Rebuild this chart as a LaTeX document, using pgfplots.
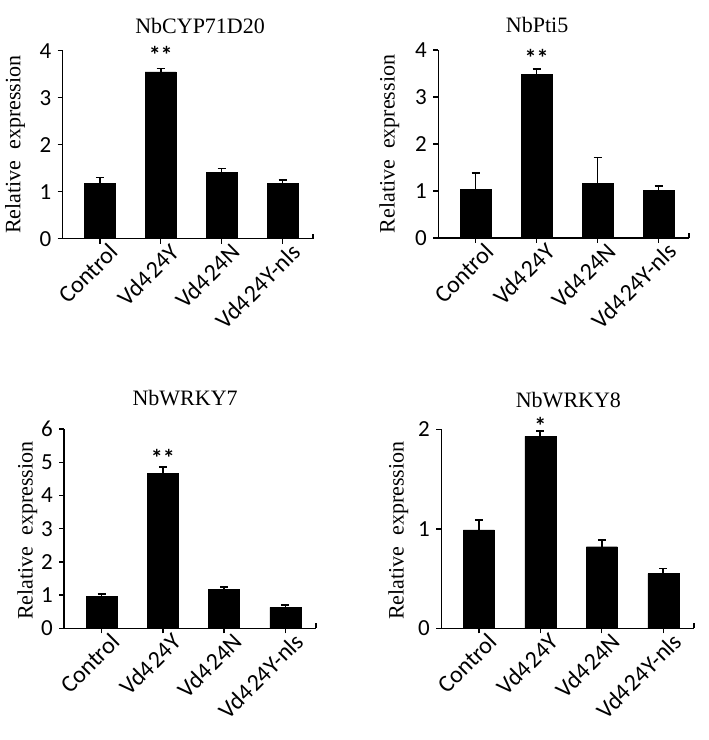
\documentclass[border=0pt]{standalone}
\usepackage{fontspec}
\setmainfont{Liberation Serif}
\newfontfamily\calfont{Carlito}
\usepackage{pgfplots}
\usepackage{pgfplotstable}
\pgfplotsset{compat=1.18}

\pgfplotstableread{
x y e
0 1.18 0.12
1 3.55 0.07
2 1.41 0.08
3 1.18 0.07
}\cyp
\pgfplotstableread{
x y e
0 1.04 0.34
1 3.48 0.11
2 1.17 0.54
3 1.01 0.10
}\pti
\pgfplotstableread{
x y e
0 0.97 0.07
1 4.67 0.19
2 1.18 0.07
3 0.63 0.07
}\wrkyseven
\pgfplotstableread{
x y e
0 0.99 0.10
1 1.93 0.05
2 0.82 0.07
3 0.55 0.05
}\wrkyeight

\tikzset{sigstar/.style={font=\calfont\bfseries\fontsize{24}{24}\selectfont, anchor=center, yshift=-5pt}}

\begin{document}
\begin{tikzpicture}
\useasboundingbox (0pt,0pt) rectangle (709pt,740pt);
\pgfplotsset{
 panel/.style={
  scale only axis, xmin=-0.61, xmax=3.5, ymin=0,
  axis x line=bottom, axis y line=left,
  axis line style={-, line width=1.6pt, black},
  tick align=outside, major tick length=5pt,
  tick style={line width=1.4pt, black},
  xtick={0,1,2,3},
  xticklabels={Control, Vd4\kern2pt 24Y, Vd4\kern2pt 24N, Vd4\kern2pt 24Y-nls},
  xticklabel style={font=\calfont\fontsize{24}{24}\selectfont, rotate=45, anchor=east, inner sep=0pt, xshift=7pt, yshift=-13pt},
  yticklabel style={font=\calfont\fontsize{23}{23}\selectfont, xshift=-3pt},
  /pgf/number format/assume math mode=true,
  ylabel={Relative\ \ expression},
  ylabel style={font=\fontsize{22}{22}\selectfont, anchor=center},
  title style={font=\fontsize{22}{22}\selectfont, anchor=center},
  extra x ticks={3.5}, extra x tick labels={},
  extra x tick style={tick align=inside},
  clip=false,
 },
 bars/.style={ybar, bar width=31pt, fill=black, draw=black,
  error bars/.cd, y dir=plus, y explicit,
  error bar style={line width=1.6pt, black},
  error mark options={rotate=90, mark size=4pt, line width=1.6pt, black}},
}

\begin{axis}[panel, at={(62.7pt,501.3pt)}, anchor=south west, width=250.3pt, height=188pt,
  ymax=4, ytick={0,1,2,3,4},
  title={NbCYP71D20}, title style={at={(axis description cs:0.549,1.10)}},
  ylabel style={at={(axis description cs:-0.19,0.5)}}]
\addplot[bars] table[x=x, y=y, y error=e]{\cyp};
\node[sigstar] at (axis cs:1,4.01) {**};
\end{axis}

\begin{axis}[panel, at={(438.3pt,502pt)}, anchor=south west, width=250.7pt, height=188pt,
  ymax=4, ytick={0,1,2,3,4},
  title={NbPti5}, title style={at={(axis description cs:0.394,1.10)}},
  ylabel style={at={(axis description cs:-0.195,0.5)}}]
\addplot[bars] table[x=x, y=y, y error=e]{\pti};
\node[sigstar] at (axis cs:1,3.94) {**};
\end{axis}

\begin{axis}[panel, at={(64.3pt,111.7pt)}, anchor=south west, width=251.7pt, height=199.3pt,
  ymax=6, ytick={0,1,2,3,4,5,6},
  title={NbWRKY7}, title style={at={(axis description cs:0.48,1.125)}},
  ylabel style={at={(axis description cs:-0.147,0.49)}}]
\addplot[bars] table[x=x, y=y, y error=e]{\wrkyseven};
\node[sigstar] at (axis cs:1,5.28) {**};
\end{axis}

\begin{axis}[panel, at={(441.3pt,111.7pt)}, anchor=south west, width=252.7pt, height=199pt,
  ymax=2, ytick={0,1,2},
  title={NbWRKY8}, title style={at={(axis description cs:0.503,1.117)}},
  ylabel style={at={(axis description cs:-0.17,0.49)}}]
\addplot[bars] table[x=x, y=y, y error=e]{\wrkyeight};
\node[sigstar] at (axis cs:1,2.08) {*};
\end{axis}
\end{tikzpicture}
\end{document}
